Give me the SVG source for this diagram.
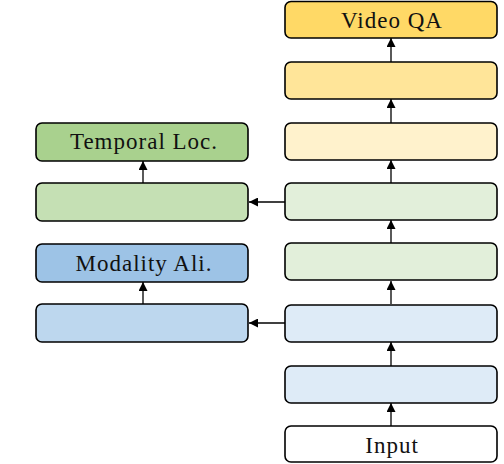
<svg xmlns="http://www.w3.org/2000/svg" width="504" height="464" viewBox="0 0 504 464">
<defs>
<style>
.b{stroke:#000;stroke-width:1.6}
.t{font-family:"Liberation Serif","Times New Roman",serif;font-size:23px;letter-spacing:1px;fill:#111;text-anchor:middle}
.c{stroke:#000;stroke-width:1.3;fill:none}
</style>
<marker id="ah" viewBox="0 0 10 10" refX="10" refY="5" markerWidth="10" markerHeight="9" markerUnits="userSpaceOnUse" orient="auto"><path d="M0,0L10,5L0,10z" fill="#000"/></marker>
</defs>
<rect width="504" height="464" fill="#fff"/>
<g id="connectors">
<line class="c" x1="391" y1="426" x2="391" y2="403" marker-end="url(#ah)"/>
<line class="c" x1="391" y1="366" x2="391" y2="342" marker-end="url(#ah)"/>
<line class="c" x1="391" y1="304" x2="391" y2="281" marker-end="url(#ah)"/>
<line class="c" x1="391" y1="243" x2="391" y2="220" marker-end="url(#ah)"/>
<line class="c" x1="391" y1="183" x2="391" y2="160" marker-end="url(#ah)"/>
<line class="c" x1="391" y1="123" x2="391" y2="99" marker-end="url(#ah)"/>
<line class="c" x1="391" y1="62" x2="391" y2="38" marker-end="url(#ah)"/>
<line class="c" x1="143" y1="304" x2="143" y2="282" marker-end="url(#ah)"/>
<line class="c" x1="143" y1="183" x2="143" y2="161" marker-end="url(#ah)"/>
<line class="c" x1="285" y1="323" x2="249" y2="323" marker-end="url(#ah)"/>
<line class="c" x1="285" y1="202" x2="249" y2="202" marker-end="url(#ah)"/>
</g>
<g id="videoqa"><rect class="b" x="285" y="1.5" width="212" height="36.5" rx="6" fill="#FFD966"/><text class="t" x="392" y="28">Video QA</text></g>
<g id="r2"><rect class="b" x="285" y="62" width="212" height="37" rx="6" fill="#FFE599"/></g>
<g id="r3"><rect class="b" x="285" y="123" width="212" height="37" rx="6" fill="#FFF2CC"/></g>
<g id="r4"><rect class="b" x="285" y="183" width="212" height="37" rx="6" fill="#E2EFDA"/></g>
<g id="r5"><rect class="b" x="285" y="243" width="212" height="37" rx="6" fill="#E2EFDA"/></g>
<g id="r6"><rect class="b" x="285" y="305" width="212" height="37" rx="6" fill="#DEEBF7"/></g>
<g id="r7"><rect class="b" x="285" y="366" width="212" height="37" rx="6" fill="#DEEBF7"/></g>
<g id="input"><rect class="b" x="285" y="426" width="212" height="36" rx="6" fill="#fff"/><text class="t" x="392" y="453">Input</text></g>
<g id="temporal"><rect class="b" x="36" y="123" width="212" height="38" rx="6" fill="#A9D18E"/><text class="t" x="144" y="149">Temporal Loc.</text></g>
<g id="l2"><rect class="b" x="36" y="183" width="212" height="38" rx="6" fill="#C5E0B4"/></g>
<g id="modality"><rect class="b" x="36" y="244" width="212" height="38" rx="6" fill="#9DC3E6"/><text class="t" x="144" y="271">Modality Ali.</text></g>
<g id="l4"><rect class="b" x="36" y="304" width="212" height="38" rx="6" fill="#BDD7EE"/></g>
</svg>
